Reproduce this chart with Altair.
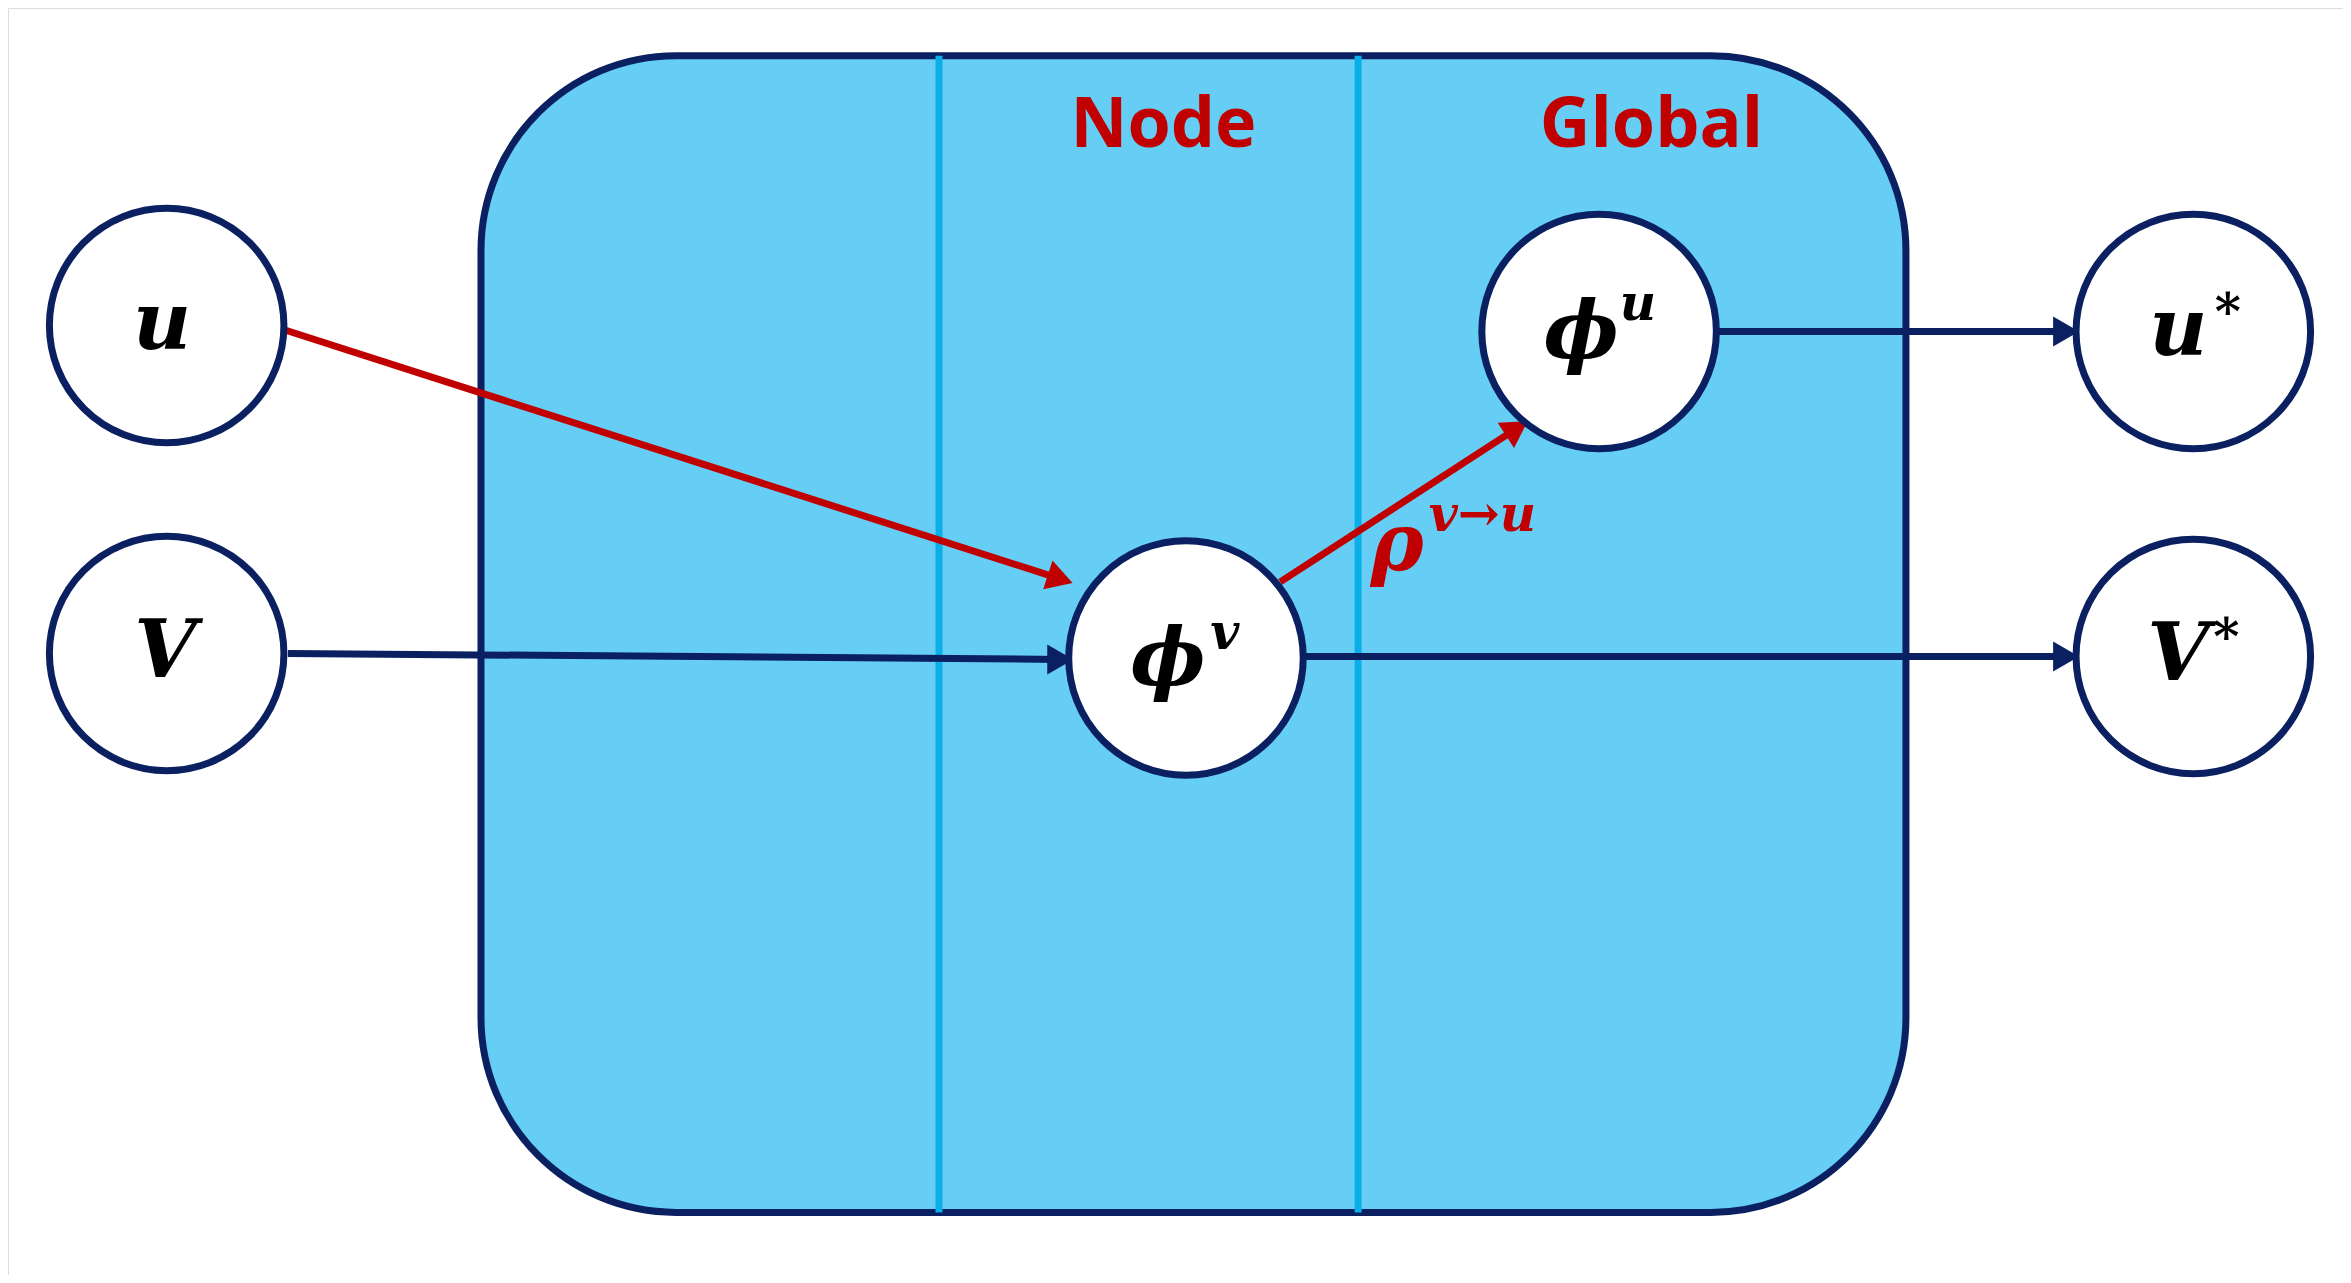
import pandas as pd
import altair as alt

# canvas in reference units (1560 x 850), y grows downward
W, H = 1560, 850

# nodes
node_x = [111, 111, 792, 1068, 1465, 1465]
node_y = [218, 438, 441, 222, 222, 440]

# edges
edge_x1 = [190, 192, 855, 1148, 872]
edge_y1 = [221, 438, 390, 222, 440]
edge_x2 = [708, 708, 1013, 1380, 1380]
edge_y2 = [388, 442, 287, 222, 440]
edge_col = ["#C00000", "#0A2060", "#C00000", "#0A2060", "#0A2060"]
head_angle = [108, 90, 57, 90, 90]

# big symbols
sym_text = ["u", "V", "ϕ", "ϕ", "u", "V", "ρ"]
sym_x = [108, 110, 780, 1056, 1455, 1455, 933]
sym_y = [218, 438, 443, 224, 222, 440, 366]
sym_col = ["black"] * 6 + ["#C00000"]

# superscripts
sup_text = ["v", "u", "*", "*", "v→u"]
sup_x = [818, 1094, 1488, 1487, 990]
sup_y = [425, 204, 210, 428, 346]
sup_col = ["black"] * 4 + ["#C00000"]

# section titles
title_text = ["Node", "Global"]
title_x = [777, 1103]
title_y = [84, 84]

xs = alt.Scale(domain=[5, W + 5], nice=False, zero=False)
ys = alt.Scale(domain=[H + 5, 5], nice=False, zero=False)
X = lambda f: alt.X(f, scale=xs, axis=None)
Y = lambda f: alt.Y(f, scale=ys, axis=None)

box = alt.Chart(pd.DataFrame({"x": [321], "x2": [1273], "y": [37], "y2": [813]})).mark_rect(
    fill="#66CEF5", stroke="#0A2060", strokeWidth=7, cornerRadius=195
).encode(x=X("x:Q"), x2="x2:Q", y=Y("y:Q"), y2="y2:Q")

dividers = alt.Chart(pd.DataFrame({"x": [627, 907], "y": [37, 37], "y2": [813, 813]})).mark_rule(
    color="#0AAEE8", strokeWidth=7
).encode(x=X("x:Q"), y=Y("y:Q"), y2="y2:Q")

edges_df = pd.DataFrame({"x": edge_x1, "y": edge_y1, "x2": edge_x2, "y2": edge_y2,
                         "c": edge_col, "a": head_angle})
edges = alt.Chart(edges_df).mark_rule(strokeWidth=7).encode(
    x=X("x:Q"), y=Y("y:Q"), x2="x2:Q", y2="y2:Q",
    color=alt.Color("c:N", scale=None))
heads = alt.Chart(edges_df).mark_point(shape="triangle-up", filled=True, size=900, opacity=1).encode(
    x=X("x2:Q"), y=Y("y2:Q"), color=alt.Color("c:N", scale=None), angle=alt.Angle("a:Q", scale=None))

nodes = alt.Chart(pd.DataFrame({"x": node_x, "y": node_y})).mark_point(
    shape="circle", size=55000, filled=False, fill="white", fillOpacity=1,
    stroke="#0A2060", strokeWidth=7, opacity=1
).encode(x=X("x:Q"), y=Y("y:Q"))

syms = alt.Chart(pd.DataFrame({"t": sym_text, "x": sym_x, "y": sym_y, "c": sym_col})).mark_text(
    font="DejaVu Serif", fontSize=80, fontWeight="bold", fontStyle="italic", baseline="middle"
).encode(x=X("x:Q"), y=Y("y:Q"), text="t:N", color=alt.Color("c:N", scale=None))

sups = alt.Chart(pd.DataFrame({"t": sup_text, "x": sup_x, "y": sup_y, "c": sup_col})).mark_text(
    font="DejaVu Serif", fontSize=50, fontWeight="bold", fontStyle="italic", baseline="middle"
).encode(x=X("x:Q"), y=Y("y:Q"), text="t:N", color=alt.Color("c:N", scale=None))

titles = alt.Chart(pd.DataFrame({"t": title_text, "x": title_x, "y": title_y})).mark_text(
    font="Open Sans", fontSize=70, fontWeight="bold", color="#C00000", baseline="middle"
).encode(x=X("x:Q"), y=Y("y:Q"), text="t:N")

chart = alt.layer(box, dividers, edges, heads, nodes, syms, sups, titles).properties(
    width=2335, height=1267, padding=0
).configure_view(stroke=None).configure(background="white")

chart.save("out.html", embed_options={"renderer": "svg", "actions": False})
